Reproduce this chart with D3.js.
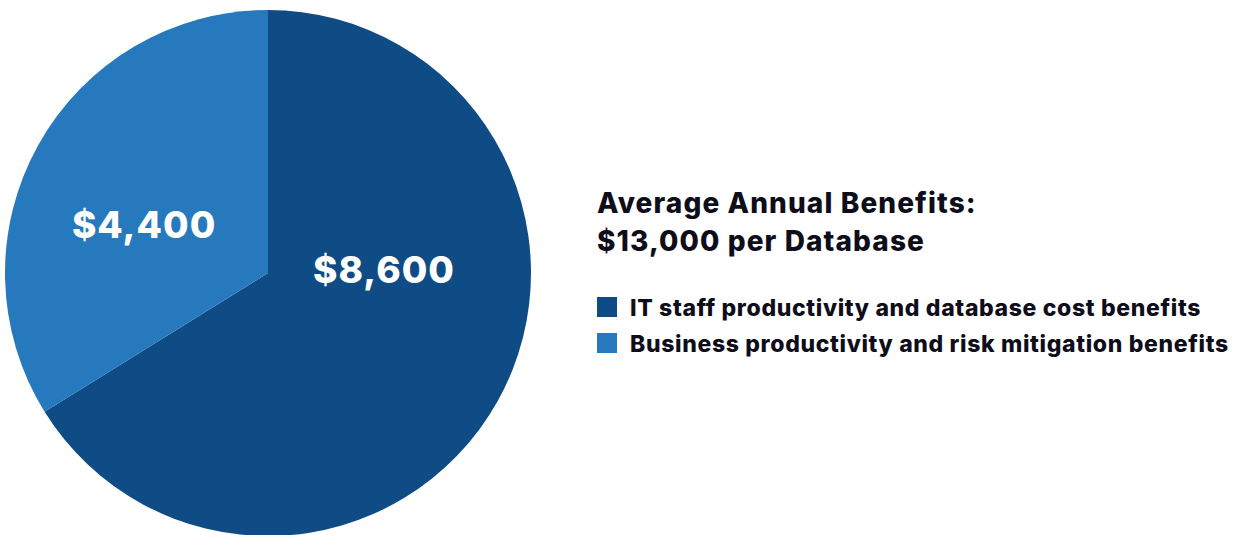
<!DOCTYPE html>
<html>
<head>
  <meta charset="utf-8">
  <title>Average Annual Benefits</title>
  <script src="https://cdn.jsdelivr.net/npm/d3@7"></script>
  <style>
    body { margin: 0; background: #fff; }
    text { font-family: Inter, "Noto Sans", sans-serif; font-weight: 800; }
  </style>
</head>
<body>
<script>
  // data
  var categories = ["IT staff productivity and database cost benefits", "Business productivity and risk mitigation benefits"];
  var values = [8600, 4400];
  var valueLabels = ["$8,600", "$4,400"];
  var titleLines = ["Average Annual Benefits:", "$13,000 per Database"];

  var width = 1236, height = 535;
  var colors = ["#0f4c85", "#2779bd"];
  var cx = 268, cy = 273, radius = 263;
  // nudges for value labels, relative to the arc centroid
  var labelShift = [[1, -67], [-9, 16]];

  var svg = d3.select("body").append("svg")
    .attr("width", width)
    .attr("height", height);

  var pie = d3.pie().sort(null).value(function(d) { return d; });
  var arc = d3.arc().innerRadius(0).outerRadius(radius);
  var labelArc = d3.arc().innerRadius(radius * 0.5).outerRadius(radius * 0.5);

  var g = svg.append("g").attr("transform", "translate(" + cx + "," + cy + ")");
  var arcs = pie(values);

  g.selectAll("path")
    .data(arcs)
    .enter()
    .append("path")
    .attr("d", arc)
    .attr("fill", function(d, i) { return colors[i]; });

  g.selectAll("text.val")
    .data(arcs)
    .enter()
    .append("text")
    .attr("class", "val")
    .attr("x", function(d, i) { return labelArc.centroid(d)[0] + labelShift[i][0]; })
    .attr("y", function(d, i) { return labelArc.centroid(d)[1] + labelShift[i][1]; })
    .attr("text-anchor", "middle")
    .attr("dy", "0.35em")
    .attr("fill", "#fff")
    .style("font-size", "37px")
    .style("letter-spacing", "1px")
    .text(function(d, i) { return valueLabels[i]; });

  svg.selectAll("text.title")
    .data(titleLines)
    .enter()
    .append("text")
    .attr("class", "title")
    .attr("x", 597)
    .attr("y", function(d, i) { return 213 + i * 38; })
    .attr("fill", "#0e0e1a")
    .style("font-size", "28px")
    .style("letter-spacing", "1.1px")
    .text(function(d) { return d; });

  var legend = svg.selectAll("g.legend")
    .data(categories)
    .enter()
    .append("g")
    .attr("class", "legend")
    .attr("transform", function(d, i) { return "translate(597," + (297 + i * 36) + ")"; });

  legend.append("rect")
    .attr("width", 20)
    .attr("height", 20)
    .attr("fill", function(d, i) { return colors[i]; });

  legend.append("text")
    .attr("x", 33)
    .attr("y", 19)
    .attr("fill", "#0e0e1a")
    .style("font-size", "23px")
    .style("letter-spacing", "0.65px")
    .text(function(d) { return d; });
</script>
</body>
</html>
